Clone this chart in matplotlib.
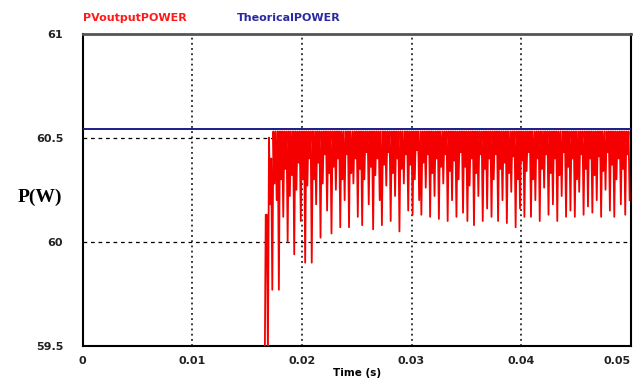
import numpy as np
import matplotlib
matplotlib.use('Agg')
import matplotlib.pyplot as plt

plt.rcParams['font.family'] = ['DejaVu Sans']

# PSIM style power plot
x_ticks = [0, 0.01, 0.02, 0.03, 0.04, 0.05]
x_labels = ['0', '0.01', '0.02', '0.03', '0.04', '0.05']
y_ticks = [59.5, 60, 60.5, 61]
y_labels = ['59.5', '60', '60.5', '61']

theory_power = 60.54

pv_t0 = 0.0168       # first visible spike
pv_dt = 0.0002       # spacing of the spikes
pv_start = [59.3, 60.13]   # signal coming up from below the axis
pv_peaks_head = [60.13, 60.5, 60.4]
pv_peak = 60.53
pv_troughs = [
    59.45, 60.18, 59.77, 60.28, 60.2, 59.77, 60.3, 60.12, 60.35, 60.0,
    60.22, 60.32, 59.94, 60.25, 60.38, 60.1, 60.3, 59.9, 60.27, 60.4,
    59.9, 60.3, 60.18, 60.38, 60.02, 60.28, 60.42, 60.15, 60.33, 60.04,
    60.36, 60.25, 60.4, 60.07, 60.3, 60.2, 60.42, 60.07, 60.33, 60.28,
    60.4, 60.12, 60.35, 60.08, 60.3, 60.43, 60.18, 60.36, 60.06, 60.32,
    60.4, 60.2, 60.08, 60.37, 60.27, 60.43, 60.1, 60.33, 60.22, 60.4,
    60.05, 60.35, 60.28, 60.42, 60.15, 60.37, 60.13, 60.3, 60.44, 60.2,
    60.13, 60.38, 60.26, 60.42, 60.12, 60.33, 60.22, 60.4, 60.11, 60.36,
    60.28, 60.42, 60.1, 60.34, 60.2, 60.39, 60.12, 60.3, 60.43, 60.14,
    60.36, 60.1, 60.27, 60.4, 60.08, 60.33, 60.22, 60.42, 60.1, 60.35,
    60.16, 60.4, 60.12, 60.3, 60.42, 60.1, 60.35, 60.2, 60.38, 60.09,
    60.33, 60.24, 60.41, 60.07, 60.3, 60.16, 60.39, 60.12, 60.34, 60.43,
    60.12, 60.3, 60.2, 60.4, 60.1, 60.35, 60.26, 60.42, 60.13, 60.33,
    60.18, 60.4, 60.1, 60.32, 60.22, 60.43, 60.12, 60.36, 60.15, 60.4,
    60.12, 60.3, 60.24, 60.42, 60.13, 60.35, 60.17, 60.4, 60.14, 60.32,
    60.2, 60.41, 60.12, 60.34, 60.25, 60.43, 60.15, 60.37, 60.12, 60.3,
    60.4, 60.18, 60.35, 60.13, 60.42, 60.2,
]

# build the zig-zag: peak, trough, peak, trough ...
n = len(pv_troughs)
peaks = pv_peaks_head + [pv_peak] * (n - len(pv_peaks_head))
t, p = [pv_t0 - 0.0002, pv_t0 - 0.0001], list(pv_start)
for i in range(n):
    t += [pv_t0 + i * pv_dt, pv_t0 + i * pv_dt + pv_dt / 2]
    p += [peaks[i], pv_troughs[i]]

fig = plt.figure(figsize=(6.33, 3.81), dpi=100)
ax = fig.add_axes([0.1306, 0.0919, 0.8658, 0.8201])

ax.plot(t, p, color='#f40000', lw=1.3, zorder=3)
ax.axhline(theory_power, color='#1c1c8a', lw=1.4, zorder=4)

for xv in x_ticks[1:-1]:
    ax.axvline(xv, color='black', lw=1.1, ls=(0, (1.2, 2.2)), zorder=1)
for yv in y_ticks[1:-1]:
    ax.axhline(yv, color='black', lw=0.9, ls=(0, (3, 3)), zorder=1)

ax.set_xlim(0, 0.05)
ax.set_ylim(59.5, 61)
ax.set_xticks(x_ticks)
ax.set_xticklabels(x_labels, fontsize=8, fontweight='bold', color='#222222')
ax.get_xticklabels()[-1].set_ha('right')
ax.set_yticks(y_ticks)
ax.set_yticklabels(y_labels, fontsize=8, fontweight='bold', color='#222222')
ax.tick_params(length=0)
ax.tick_params(axis='y', pad=14)
ax.tick_params(axis='x', pad=7)

for s in ['left', 'bottom', 'right']:
    ax.spines[s].set_linewidth(1.5)
    ax.spines[s].set_color('black')
ax.spines['top'].set_linewidth(2)
ax.spines['top'].set_color('#555555')

ax.set_xlabel('Time (s)', fontsize=7.5, fontweight='bold', labelpad=2)
fig.text(0.063, 0.483, 'P(W)', fontsize=14, fontweight='bold',
         family=['Liberation Serif', 'DejaVu Serif'], ha='center', va='center')

fig.text(0.1306, 0.953, 'PVoutputPOWER', color='#ff1a1a', fontsize=8,
         fontweight='bold', va='center')
fig.text(0.374, 0.953, 'TheoricalPOWER', color='#2a2aa0', fontsize=8,
         fontweight='bold', va='center')

fig.savefig('out.png', dpi=100)
